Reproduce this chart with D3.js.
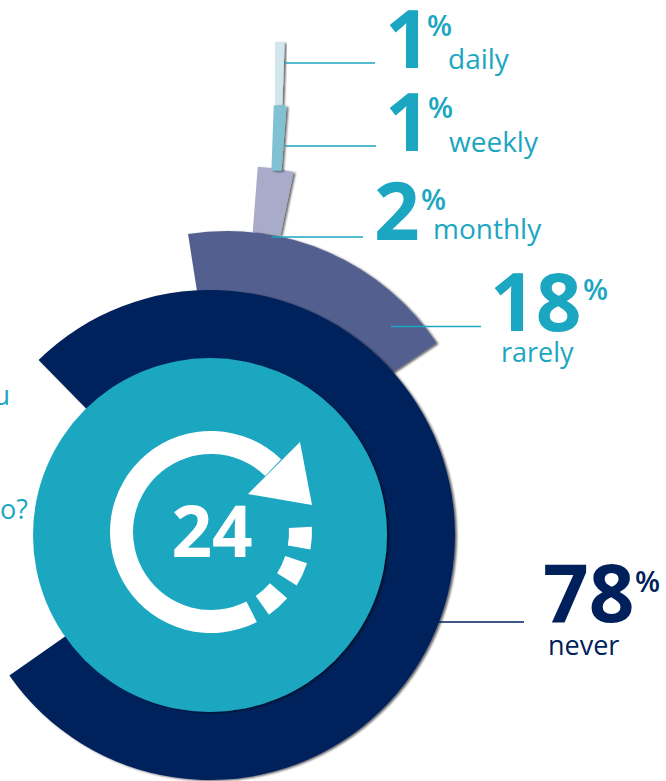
<!DOCTYPE html>
<html>
<head>
	<meta charset="utf-8">
	<script src="https://d3js.org/d3.v7.min.js"></script>
	<style>
		html, body { margin: 0; padding: 0; background: #fff; overflow: hidden; }
		text { font-family: "Open Sans", sans-serif; }
	</style>
</head>
<body>
	<div id="my_dataviz"></div>
	<script>

	const width = 666
	const height = 781

	// values as printed and the share each wedge really covers
	const categories = ["daily", "weekly", "monthly", "rarely", "never"]
	const printed = [1, 1, 2, 18, 78]
	const shares = [0.58, 0.67, 2.03, 18.1, 77.6]
	const startShares = [0, 0.56, 1.22, -2.47, -12.33]

	// every wedge is drawn round its own centre
	const centres = [[275, 307], [263, 410], [236, 450], [227, 483], [210, 535]]
	const radii = [[202, 265], [240, 305], [219, 284], [150, 252], [170, 245]]
	const colours = ["#d2e6ee", "#80c1d4", "#a8abc9", "#535f8e", "#00205c"]
	const drawOrder = [2, 0, 1, 3, 4]

	// label layout: number x / baseline, percent x / baseline, word x / baseline
	const numberPos = [[385, 68], [385, 151], [374, 240], [490, 331], [543, 622]]
	const percentPos = [[427, 36], [428, 118], [421, 210], [583, 300], [635, 592]]
	const wordPos = [[448, 69], [449, 152], [433, 239], [501, 362], [548, 655]]
	const wordSizes = [28, 28, 28, 27, 27]
	const leaders = [[285, 375, 63], [285, 376, 146], [272, 363, 237], [391, 481, 326.5], [437, 524, 622]]
	const labelColours = ["#1ba6c1", "#1ba6c1", "#1ba6c1", "#1ba6c1", "#00205c"]

	const svg = d3.select("#my_dataviz")
	  .append("svg")
	    .attr("width", width)
	    .attr("height", height)
	    .style("display", "block")

	const defs = svg.append("defs")
	const shadow = defs.append("filter")
	    .attr("id", "shadow")
	    .attr("x", "-20%").attr("y", "-20%")
	    .attr("width", "140%").attr("height", "140%")
	shadow.append("feDropShadow")
	    .attr("dx", 2).attr("dy", 1)
	    .attr("stdDeviation", 0.8)
	    .attr("flood-color", "#000")
	    .attr("flood-opacity", 0.6)

	// share in % -> radians
	const angle = d3.scaleLinear().domain([0, 100]).range([0, 2 * Math.PI])
	const arc = d3.arc()

	svg.append("g")
	  .selectAll("path")
	  .data(drawOrder)
	  .join("path")
	    .attr("transform", i => `translate(${centres[i]})`)
	    .attr("d", i => arc({
	      innerRadius: radii[i][0],
	      outerRadius: radii[i][1],
	      startAngle: angle(startShares[i]),
	      endAngle: angle(startShares[i] + shares[i])
	    }))
	    .attr("fill", i => colours[i])
	    .attr("filter", "url(#shadow)")

	// middle disc
	svg.append("circle")
	    .attr("cx", 210).attr("cy", 535).attr("r", 177)
	    .attr("fill", "#1ca7c1")
	    .attr("filter", "url(#shadow)")

	// 24h icon
	const rad = d => d * Math.PI / 180
	const icon = svg.append("g").attr("transform", "translate(211,532)").attr("fill", "#fff")
	icon.append("path")
	    .attr("d", arc({ innerRadius: 78, outerRadius: 101, startAngle: rad(153), endAngle: rad(404) }))
	icon.append("path")
	    .attr("d", "M89,-90L101,-27L37,-38Z")
	const dashes = [[87, 100], [108, 122], [131, 145]]
	icon.selectAll(".dash")
	  .data(dashes)
	  .join("path")
	    .attr("class", "dash")
	    .attr("d", d => arc({ innerRadius: 78, outerRadius: 101, startAngle: rad(d[0]), endAngle: rad(d[1]), cornerRadius: 2 }))
	svg.append("text")
	    .attr("x", 212).attr("y", 557)
	    .attr("text-anchor", "middle")
	    .attr("font-size", 71).attr("font-weight", 700)
	    .attr("fill", "#fff")
	    .text("24")

	// leader lines
	svg.append("g")
	  .selectAll("line")
	  .data(categories)
	  .join("line")
	    .attr("x1", (d, i) => leaders[i][0])
	    .attr("x2", (d, i) => leaders[i][1])
	    .attr("y1", (d, i) => leaders[i][2])
	    .attr("y2", (d, i) => leaders[i][2])
	    .attr("stroke", (d, i) => labelColours[i])
	    .attr("stroke-width", 1.4)

	// labels
	const labels = svg.append("g")
	  .selectAll("g")
	  .data(categories)
	  .join("g")
	    .attr("fill", (d, i) => labelColours[i])
	labels.append("text")
	    .attr("x", (d, i) => numberPos[i][0])
	    .attr("y", (d, i) => numberPos[i][1])
	    .attr("font-size", 80).attr("font-weight", 700)
	    .text((d, i) => printed[i])
	labels.append("text")
	    .attr("x", (d, i) => percentPos[i][0])
	    .attr("y", (d, i) => percentPos[i][1])
	    .attr("font-size", 29).attr("font-weight", 600)
	    .text("%")
	labels.append("text")
	    .attr("x", (d, i) => wordPos[i][0])
	    .attr("y", (d, i) => wordPos[i][1])
	    .attr("font-size", (d, i) => wordSizes[i])
	    .text(d => d)

	// question text, cut off by the left edge in the picture
	svg.append("text")
	    .attr("x", 10).attr("y", 405)
	    .attr("text-anchor", "end")
	    .attr("font-size", 27).attr("fill", "#1ba6c1")
	    .text("u")
	svg.append("text")
	    .attr("x", 28).attr("y", 519)
	    .attr("text-anchor", "end")
	    .attr("font-size", 27).attr("fill", "#1ba6c1")
	    .text("o?")

	</script>
</body>
</html>
